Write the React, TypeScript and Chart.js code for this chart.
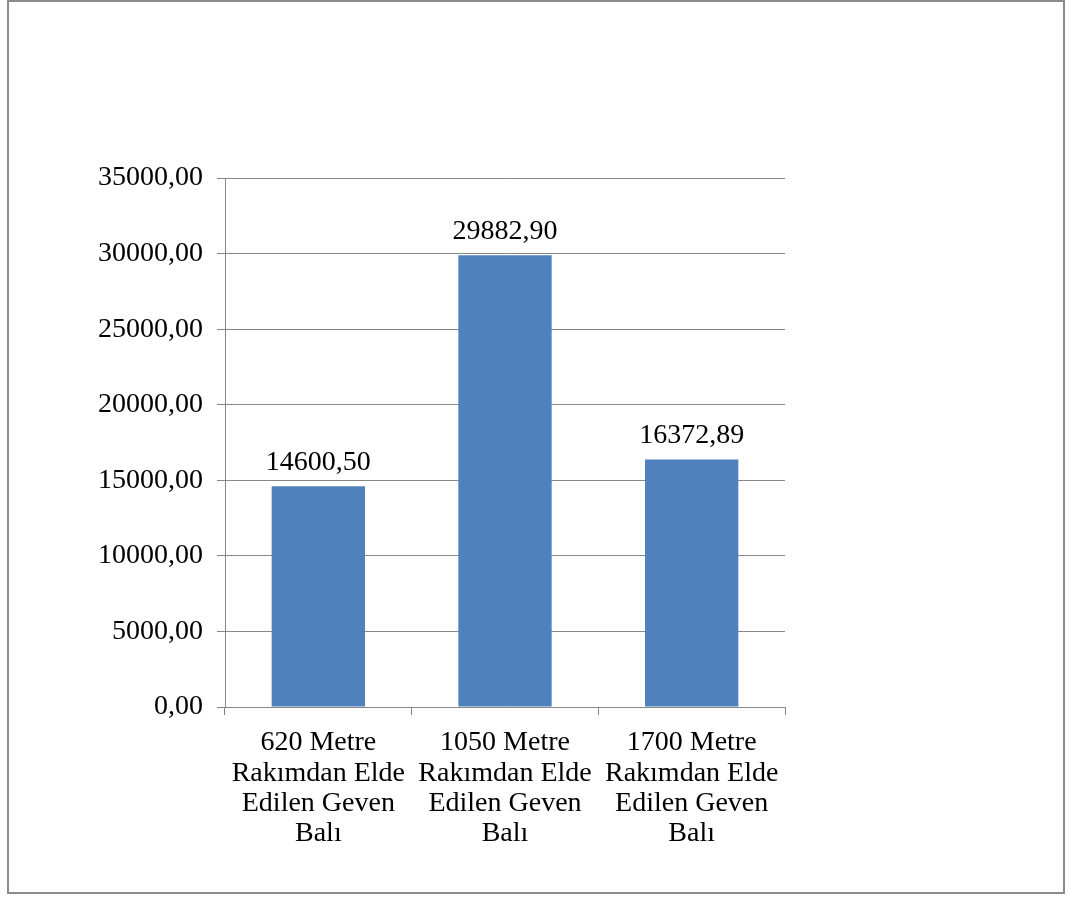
import React, { useEffect, useRef } from "react";
import { Chart, registerables } from "chart.js";

Chart.register(...registerables);

const categories: string[][] = [
  ["620 Metre", "Rakımdan Elde", "Edilen Geven", "Balı"],
  ["1050 Metre", "Rakımdan Elde", "Edilen Geven", "Balı"],
  ["1700 Metre", "Rakımdan Elde", "Edilen Geven", "Balı"],
];
const values: number[] = [14600.5, 29882.9, 16372.89];
const yMin = 0;
const yMax = 35000;
const yStep = 5000;

const FONT = "'Liberation Serif', 'Times New Roman', serif";
const FONT_SIZE = 28;
const fmt = (v: number) => v.toFixed(2).replace(".", ",");

const dataLabelPlugin = {
  id: "dataLabels",
  afterDatasetsDraw(chart: any) {
    const ctx = chart.ctx;
    const meta = chart.getDatasetMeta(0);
    ctx.save();
    ctx.fillStyle = "#000";
    ctx.font = `${FONT_SIZE}px ${FONT}`;
    ctx.textAlign = "center";
    ctx.textBaseline = "bottom";
    meta.data.forEach((bar: any, i: number) => {
      ctx.fillText(fmt(values[i]), bar.x, bar.y - 10);
    });
    ctx.restore();
  },
};

export default function App() {
  const ref = useRef<HTMLCanvasElement>(null);
  useEffect(() => {
    if (!ref.current) return;
    const chart = new Chart(ref.current, {
      type: "bar",
      data: {
        labels: categories,
        datasets: [
          {
            data: values,
            backgroundColor: "#4F81BD",
            borderWidth: 0,
            barPercentage: 0.5,
            categoryPercentage: 1,
          },
        ],
      },
      options: {
        animation: false,
        responsive: false,
        maintainAspectRatio: false,
        layout: { padding: { left: 0, top: 178, right: 283, bottom: 0 } },
        plugins: { legend: { display: false }, tooltip: { enabled: false } },
        scales: {
          x: {
            offset: true,
            grid: {
              offset: true,
              drawOnChartArea: false,
              drawTicks: true,
              tickLength: 8,
              color: "#868686",
            },
            border: { display: true, color: "#868686", width: 1 },
            ticks: {
              color: "#000",
              font: { family: FONT, size: FONT_SIZE, lineHeight: 1.08 },
              padding: 13,
              maxRotation: 0,
              autoSkip: false,
            },
            afterFit: (s: any) => {
              s.height = 191;
            },
          },
          y: {
            min: yMin,
            max: yMax,
            grid: { color: "#868686", tickLength: 8, lineWidth: 1 },
            border: { display: true, color: "#868686", width: 1 },
            ticks: {
              stepSize: yStep,
              color: "#000",
              font: { family: FONT, size: FONT_SIZE },
              padding: 14,
              callback: (v: any) => fmt(Number(v)),
            },
            afterFit: (s: any) => {
              s.width = 225;
            },
          },
        },
      },
      plugins: [dataLabelPlugin],
    });
    return () => chart.destroy();
  }, []);
  return (
    <div style={{ position: "absolute", left: 0, top: 0, width: 1068, height: 898, background: "#fff" }}>
      <div
        style={{
          position: "absolute",
          left: 7,
          top: 0,
          width: 1054,
          height: 890,
          border: "2px solid #8c8c8c",
        }}
      />
      <canvas ref={ref} width={1068} height={898} style={{ position: "absolute", left: 0, top: 0 }} />
    </div>
  );
}
